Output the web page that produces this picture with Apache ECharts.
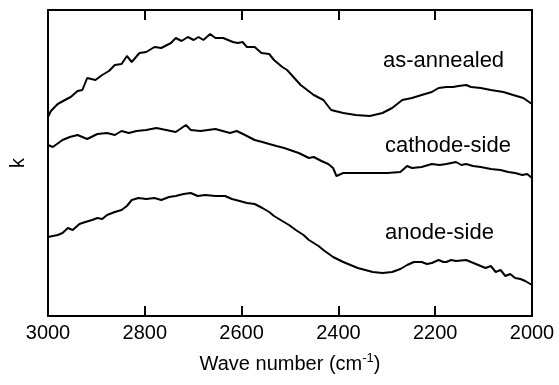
<!DOCTYPE html>
<html><head><meta charset="utf-8">
<script src="https://cdn.jsdelivr.net/npm/echarts@6/dist/echarts.min.js"></script>
<style>html,body{margin:0;padding:0;background:#fff}#c{width:559px;height:385px}</style>
</head><body><div id="c"></div>
<script>
var xTicks = [3000, 2800, 2600, 2400, 2200, 2000];
var seriesNames = ['as-annealed', 'cathode-side', 'anode-side'];

var annealedW = [3000,2994,2980,2965,2953,2939,2929,2919,2902,2888,2874,2862,2848,2837,2827,2811,2797,2780,2766,2746,2736,2724,2711,2699,2689,2679,2665,2654,2638,2628,2618,2608,2598,2589,2573,2559,2543,2533,2516,2506,2478,2451,2431,2415,2390,2364,2335,2309,2289,2268,2248,2228,2207,2193,2177,2163,2152,2136,2126,2106,2085,2059,2039,2018,2000];
var annealedK = [199,205,212,216,219,225,226,238,236,241,245,251,252,260,254,263,264,269,268,273,278,275,279,276,279,276,282,278,278,276,274,273,274,269,269,263,262,256,249,246,231,221,216,206,203,201,200,203,208,216,218,221,224,228,229,229,230,231,229,228,226,224,221,218,212];

var cathodeW = [3000,2990,2970,2955,2939,2919,2898,2878,2862,2848,2833,2817,2797,2776,2756,2736,2715,2705,2685,2654,2624,2610,2593,2573,2557,2543,2528,2512,2482,2461,2451,2435,2421,2411,2404,2390,2350,2299,2272,2258,2248,2228,2207,2191,2177,2157,2146,2136,2122,2106,2085,2065,2049,2035,2020,2010,2000];
var cathodeK = [171,169,176,179,181,177,182,183,181,185,183,185,186,188,186,184,191,186,185,187,183,185,181,176,174,172,170,168,163,158,159,155,152,148,140,143,143,143,144,150,148,149,152,151,152,154,151,152,150,149,147,146,144,143,141,142,138];

var anodeW = [3000,2990,2980,2970,2959,2949,2935,2923,2909,2898,2888,2878,2862,2848,2837,2827,2813,2797,2780,2766,2750,2736,2720,2705,2691,2675,2654,2634,2620,2604,2589,2573,2557,2543,2533,2516,2502,2488,2472,2461,2451,2441,2431,2411,2390,2360,2329,2309,2289,2272,2258,2244,2228,2217,2207,2193,2183,2177,2167,2157,2136,2126,2116,2096,2085,2075,2065,2055,2045,2035,2024,2014,2000];
var anodeK = [79,80,81,83,88,86,92,94,96,98,97,101,104,106,110,116,118,117,118,116,119,120,122,123,120,121,120,120,117,115,113,112,108,104,100,95,91,86,81,76,73,70,66,59,54,48,44,43,44,47,51,54,54,52,53,56,54,54,56,55,56,54,52,48,50,44,46,40,42,38,37,35,31];

function pairs(w, k) { return w.map(function (v, i) { return [v, k[i]]; }); }

var chart = echarts.init(document.getElementById('c'), null, {renderer: 'canvas'});
var FONT = 'Liberation Sans, Arial, Helvetica, sans-serif';

function mkSeries(name, w, k) {
  return {name: name, type: 'line', data: pairs(w, k), showSymbol: false, symbol: 'none',
    lineStyle: {color: '#000', width: 2}, itemStyle: {color: '#000'}, smooth: false};
}

function mkTitle(text, left, top) {
  return {text: text, left: left, top: top, padding: 0,
    textStyle: {fontSize: 22, fontWeight: 'normal', fontFamily: FONT, color: '#000'}};
}

chart.setOption({
  backgroundColor: '#fff',
  animation: false,
  title: [
    mkTitle(seriesNames[0], 383, 50),
    mkTitle(seriesNames[1], 385, 135),
    mkTitle(seriesNames[2], 385, 222)
  ],
  grid: {left: 40, right: 27, top: 10, bottom: 69},
  xAxis: [{
    type: 'value', min: 2000, max: 3000, interval: 200, inverse: true,
    axisLine: {show: true, onZero: false, lineStyle: {color: '#000', width: 2}},
    axisTick: {show: true, inside: true, length: 10, lineStyle: {color: '#000', width: 2}},
    splitLine: {show: false},
    axisLabel: {color: '#000', fontSize: 20, fontFamily: FONT, margin: 7,
      formatter: function (v) { return String(v); }},
    name: '{a|Wave number (cm}{s|-1}{a|)}',
    nameLocation: 'middle', nameGap: 36,
    nameTextStyle: {rich: {
      a: {fontSize: 20, fontFamily: FONT, color: '#000'},
      s: {fontSize: 13, fontFamily: FONT, color: '#000', verticalAlign: 'top', padding: [0, 0, 12, 0]}
    }}
  }, {
    type: 'value', position: 'top', min: 2000, max: 3000, interval: 200, inverse: true,
    axisLine: {show: true, onZero: false, lineStyle: {color: '#000', width: 2}},
    axisTick: {show: true, inside: true, length: 10, lineStyle: {color: '#000', width: 2}},
    axisLabel: {show: false}, splitLine: {show: false}
  }],
  yAxis: [{
    type: 'value', min: 0, max: 306, position: 'left',
    axisLine: {show: true, onZero: false, lineStyle: {color: '#000', width: 2}},
    axisTick: {show: false}, axisLabel: {show: false}, splitLine: {show: false},
    name: 'k', nameLocation: 'middle', nameGap: 20, nameRotate: 90,
    nameTextStyle: {fontSize: 20, fontFamily: FONT, color: '#000'}
  }, {
    type: 'value', position: 'right', min: 0, max: 306,
    axisLine: {show: true, onZero: false, lineStyle: {color: '#000', width: 2}},
    axisTick: {show: false}, axisLabel: {show: false}, splitLine: {show: false}
  }],
  series: [
    mkSeries(seriesNames[0], annealedW, annealedK),
    mkSeries(seriesNames[1], cathodeW, cathodeK),
    mkSeries(seriesNames[2], anodeW, anodeK)
  ]
});
</script></body></html>
